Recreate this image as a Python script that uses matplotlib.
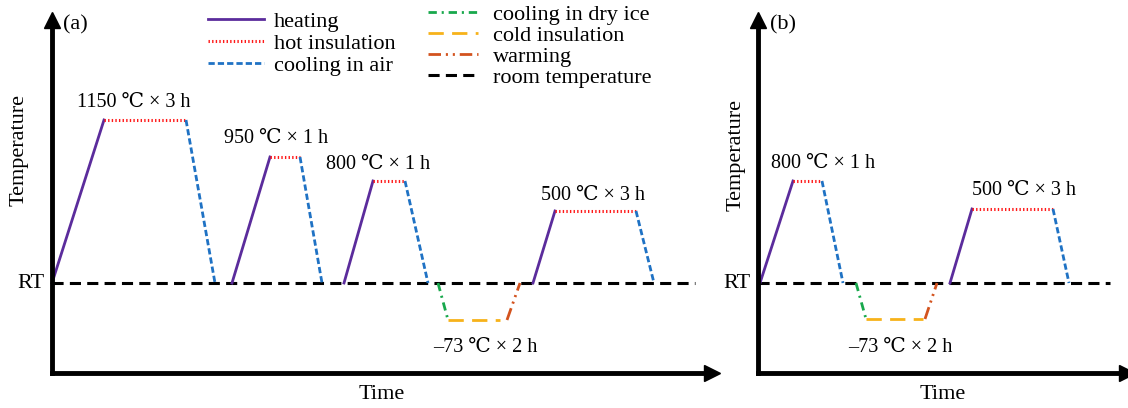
import matplotlib
matplotlib.use("Agg")
import matplotlib.pyplot as plt

plt.rcParams["font.family"] = ["Liberation Serif", "DejaVu Serif"]
plt.rcParams["lines.scale_dashes"] = False

# schematic units (RT = 0)
RT = 0
# panel (a): (start time, end time, start level, end level) per stage
a_heat = [(0, 52, 0, 163), (180, 218, 0, 126), (292, 321, 0, 102), (481, 503, 0, 72)]
a_hold = [(52, 134, 163, 163), (218, 248, 126, 126), (321, 353, 102, 102), (503, 584, 72, 72)]
a_cool = [(134, 163, 163, 0), (248, 270, 126, 0), (353, 376, 102, 0), (584, 602, 72, 0)]
a_dry = [(386, 396, 0, -37)]
a_cold = [(396, 448, -37, -37)]
a_warm = [(455, 468, -37, 0)]
a_rt_end = 643
a_labels = [(82, 181, "1150 ℃ × 3 h"), (224, 145, "950 ℃ × 1 h"), (326, 119, "800 ℃ × 1 h"),
            (541, 88, "500 ℃ × 3 h"), (433, -64, "–73 ℃ × 2 h")]

# panel (b)
b_heat = [(2, 35, 0, 102), (192, 214, 0, 74)]
b_hold = [(35, 64, 102, 102), (214, 295, 74, 74)]
b_cool = [(64, 85, 102, 0), (295, 311, 74, 0)]
b_dry = [(98, 108, 0, -36)]
b_cold = [(108, 165, -36, -36)]
b_warm = [(167, 179, -36, 0)]
b_rt_end = 352
b_labels = [(65, 120, "800 ℃ × 1 h"), (266, 93, "500 ℃ × 3 h"), (142, -64, "–73 ℃ × 2 h")]

styles = {
    "heating": dict(color="#5b2c9c", lw=2.0, ls="-"),
    "hot insulation": dict(color="#ff1a1a", lw=2.2, ls=(0, (1.0, 1.6))),
    "cooling in air": dict(color="#1f72c4", lw=2.0, ls=(0, (4.5, 2.2))),
    "cooling in dry ice": dict(color="#18a84c", lw=2.0, ls=(0, (6, 3.5, 1.5, 3.5))),
    "cold insulation": dict(color="#f7b21a", lw=2.0, ls=(0, (11, 6))),
    "warming": dict(color="#d3531e", lw=2.0, ls=(0, (9, 3.5, 1.5, 3.5, 1.5, 3.5))),
    "room temperature": dict(color="black", lw=2.2, ls=(0, (8, 4.5))),
}

fs = 14.5      # step annotations
fs_big = 16    # axis labels, legend
W, H = 1128, 408
fig = plt.figure(figsize=(W / 100, H / 100), dpi=100)


def make_axes(x0, x1, y0=373, y1=20):
    ax = fig.add_axes([x0 / W, (H - y0) / H, (x1 - x0) / W, (y0 - y1) / H])
    ax.set_xlim(0, x1 - x0)
    ax.set_ylim(-90, 263)
    for s in ["top", "right"]:
        ax.spines[s].set_visible(False)
    for s in ["left", "bottom"]:
        ax.spines[s].set_linewidth(3.5)
    ax.set_xticks([]); ax.set_yticks([])
    ax.plot(0, 1, marker="^", color="k", ms=11, transform=ax.transAxes, clip_on=False)
    ax.plot(1, 0, marker=">", color="k", ms=11, transform=ax.transAxes, clip_on=False)
    ax.patch.set_alpha(0)
    return ax


def draw(ax, groups, rt_end, labels):
    handles = {}
    ln, = ax.plot([0, rt_end], [RT, RT], **styles["room temperature"], clip_on=False)
    handles["room temperature"] = ln
    for name, segs in groups.items():
        for t0, t1, v0, v1 in segs:
            ln, = ax.plot([t0, t1], [v0, v1], **styles[name], clip_on=False)
            handles[name] = ln
    for x, y, s in labels:
        ax.text(x, y, s, ha="center", va="center", fontsize=fs)
    ax.text(-7, RT, "RT", ha="right", va="center", fontsize=fs_big)
    ax.text(0.5, -0.06, "Time", transform=ax.transAxes, ha="center", va="center", fontsize=fs_big)
    return handles


axa = make_axes(52, 712)
ha = draw(axa, {"heating": a_heat, "hot insulation": a_hold, "cooling in air": a_cool,
                "cooling in dry ice": a_dry, "cold insulation": a_cold, "warming": a_warm},
          a_rt_end, a_labels)
axa.text(-33, 133, "Temperature", rotation=90, ha="center", va="center", fontsize=fs_big)
axa.text(23, 258, "(a)", ha="center", va="center", fontsize=fs_big)

axb = make_axes(758, 1127)
draw(axb, {"heating": b_heat, "hot insulation": b_hold, "cooling in air": b_cool,
           "cooling in dry ice": b_dry, "cold insulation": b_cold, "warming": b_warm},
     b_rt_end, b_labels)
axb.text(-22, 128, "Temperature", rotation=90, ha="center", va="center", fontsize=fs_big)
axb.text(25, 258, "(b)", ha="center", va="center", fontsize=fs_big)

col1 = ["heating", "hot insulation", "cooling in air"]
col2 = ["cooling in dry ice", "cold insulation", "warming", "room temperature"]
fig.legend([ha[k] for k in col1], col1, loc="upper left", bbox_to_anchor=(208 / W, 1 - 11 / H),
           frameon=False, fontsize=fs_big, handlelength=2.5, handletextpad=0.45,
           labelspacing=0.08, borderpad=0, borderaxespad=0)
fig.legend([ha[k] for k in col2], col2, loc="upper left", bbox_to_anchor=(428 / W, 1 - 4 / H),
           frameon=False, fontsize=fs_big, handlelength=2.25, handletextpad=0.68,
           labelspacing=0.03, borderpad=0, borderaxespad=0)

fig.savefig("out.png", dpi=100)
